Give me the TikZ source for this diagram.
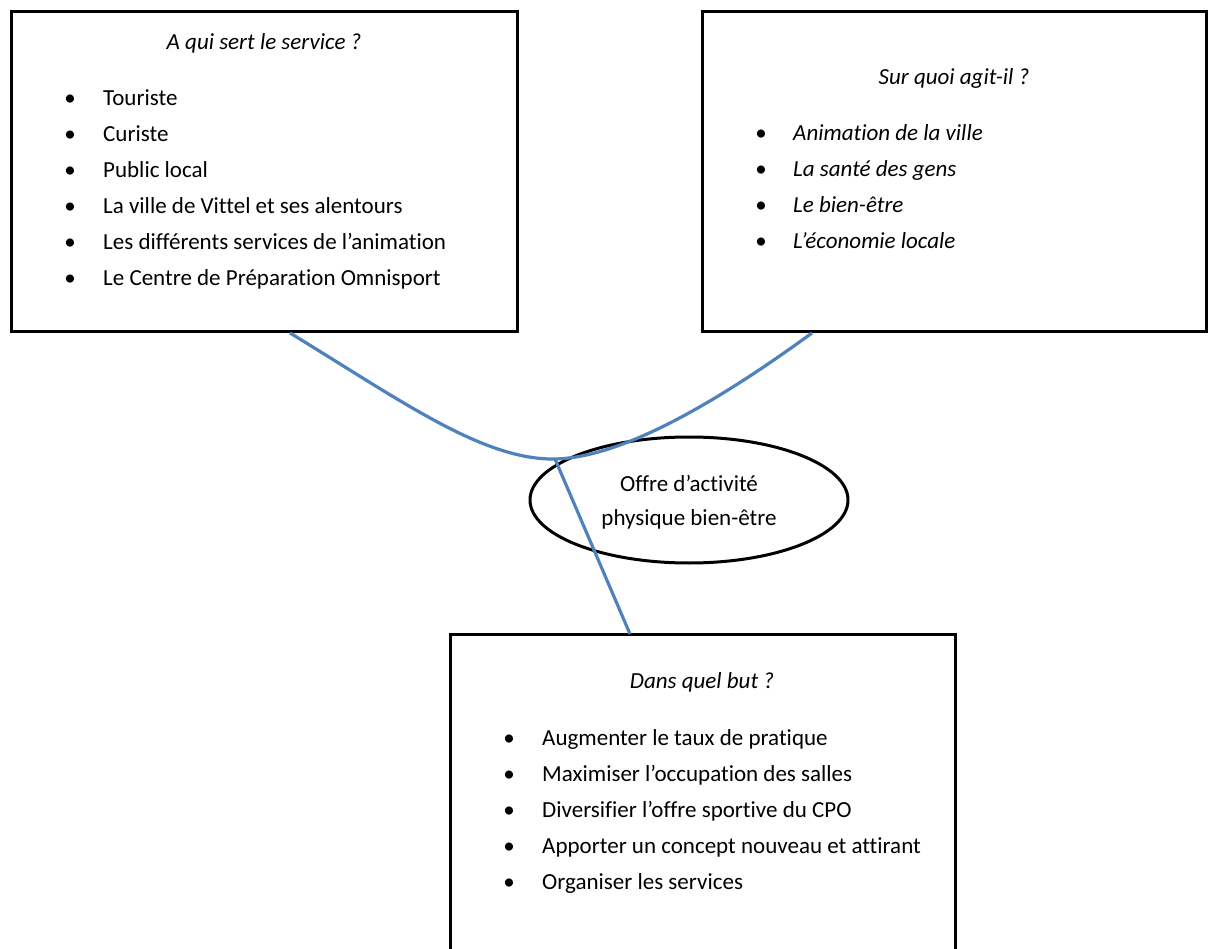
\documentclass[tikz,border=0pt]{standalone}
\usepackage{fontspec}
\setmainfont{Carlito}[Ligatures=NoCommon]
\usetikzlibrary{shapes.geometric}
\definecolor{officeblue}{RGB}{79,129,189}
\tikzset{
  box/.style={draw=black, line width=3pt, rectangle, inner sep=0pt},
  item/.style={anchor=base west, inner sep=0pt, font=\fontsize{23}{27}\selectfont},
  bul/.style={anchor=base, inner sep=0pt, font=\fontsize{23}{27}\selectfont},
  ttl/.style={anchor=base, inner sep=0pt, font=\fontsize{23}{27}\selectfont\itshape},
  link/.style={draw=officeblue, line width=3.2pt},
}
\begin{document}
\begin{tikzpicture}[x=1pt,y=-1pt]
\useasboundingbox (0,0) rectangle (1210,949);
% boxes
\node[box, minimum width=506pt, minimum height=320pt] (box1) at (264,172) {};
\node[box, minimum width=504pt, minimum height=320pt] (box2) at (954,172) {};
\draw[line width=3pt] (450,960) -- (450,634) coordinate (b3l) -- (955,634) coordinate (b3r) -- (955,960);
\coordinate (box3top) at (630,634);
% ellipse
\node[draw=black, line width=3pt, ellipse, minimum width=318pt, minimum height=126pt, inner sep=0pt] (ell) at (689,500) {};
\node[anchor=base, inner sep=0pt, font=\fontsize{23}{27}\selectfont] (e1) at (689,491) {Offre d’activité};
\node[anchor=base, inner sep=0pt, font=\fontsize{23}{27}\selectfont] (e2) at (689,525) {physique bien-être};
% box 1 text
\node[ttl] (t1) at (264,50) {A qui sert le service ?};
\foreach \y/\txt [count=\i] in {106/Touriste, 142/Curiste, 178/Public local, 214/La ville de Vittel et ses alentours, 250/Les différents services de l’animation, 286/Le Centre de Préparation Omnisport}{
  \node[bul] (b1\i) at (70,\y) {\textbullet};
  \node[item] (i1\i) at (103,\y) {\txt};
}
% box 2 text
\node[ttl] (t2) at (954,85) {Sur quoi agit-il ?};
\foreach \y/\txt [count=\i] in {141/Animation de la ville, 177/La santé des gens, 213/Le bien-être, 249/L’économie locale}{
  \node[bul] (b2\i) at (761,\y) {\textbullet};
  \node[item, font=\fontsize{23}{27}\selectfont\itshape] (i2\i) at (793,\y) {\txt};
}
% box 3 text
\node[ttl] (t3) at (702,688) {Dans quel but ?};
\foreach \y/\txt [count=\i] in {745/Augmenter le taux de pratique, 781/Maximiser l’occupation des salles, 817/Diversifier l’offre sportive du CPO, 853/Apporter un concept nouveau et attirant, 889/Organiser les services}{
  \node[bul] (b3\i) at (509,\y) {\textbullet};
  \node[item] (i3\i) at (542,\y) {\txt};
}
% connectors
\coordinate (c1) at (290,333);
\coordinate (c2) at (812,333);
\coordinate (cm) at (551,459);
\coordinate (cj) at (555,459);
\draw[link] (c1) .. controls (400,400) and (480,458) .. (cm) .. controls (620,460) and (720,400) .. (c2);
\draw[link] (cj) -- (box3top);
\end{tikzpicture}
\end{document}
